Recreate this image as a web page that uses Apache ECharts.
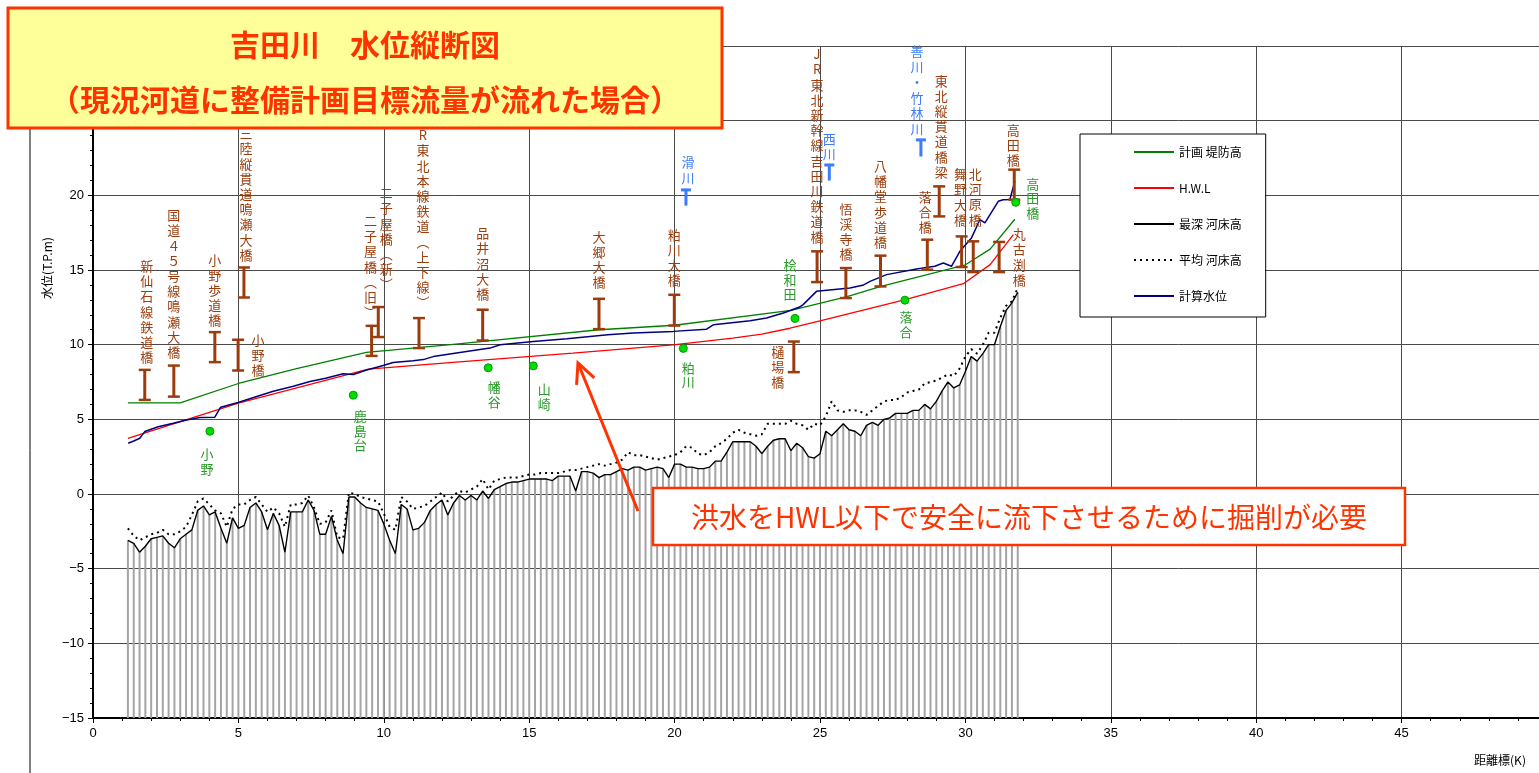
<!DOCTYPE html>
<html>
<head>
<meta charset="utf-8">
<script src="https://cdn.jsdelivr.net/npm/echarts@6/dist/echarts.min.js"></script>
<style>
  html, body { margin: 0; padding: 0; background: #fff; }
  #chart { width: 1539px; height: 773px; }
</style>
</head>
<body>
<div id="chart"></div>
<script>
// ---- cross-section stations (km) and river-bed heights (T.P.m) ----
const stationKm = [
  1.2,1.4,1.6,1.8,2.0,2.2,2.4,2.6,2.8,3.0,
  3.2,3.4,3.6,3.8,4.0,4.2,4.4,4.6,4.8,5.0,
  5.2,5.4,5.6,5.8,6.0,6.2,6.4,6.6,6.8,7.0,
  7.2,7.4,7.6,7.8,8.0,8.2,8.4,8.6,8.8,9.0,
  9.2,9.4,9.6,9.8,10.0,10.2,10.4,10.6,10.8,11.0,
  11.2,11.4,11.6,11.8,12.0,12.2,12.4,12.6,12.8,13.0,
  13.2,13.4,13.6,13.8,14.0,14.2,14.4,14.6,14.8,15.0,
  15.2,15.4,15.6,15.8,16.0,16.2,16.4,16.6,16.8,17.0,
  17.2,17.4,17.6,17.8,18.0,18.2,18.4,18.6,18.8,19.0,
  19.2,19.4,19.6,19.8,20.0,20.2,20.4,20.6,20.8,21.0,
  21.2,21.4,21.6,21.8,22.0,22.2,22.4,22.6,22.8,23.0,
  23.2,23.4,23.6,23.8,24.0,24.2,24.4,24.6,24.8,25.0,
  25.2,25.4,25.6,25.8,26.0,26.2,26.4,26.6,26.8,27.0,
  27.2,27.4,27.6,27.8,28.0,28.2,28.4,28.6,28.8,29.0,
  29.2,29.4,29.6,29.8,30.0,30.2,30.4,30.6,30.8,31.0,
  31.2,31.4,31.6,31.8
];

// 最深河床高
const bedDeepest = [
  -3.1,-3.3,-3.9,-3.5,-3.0,-2.9,-2.8,-3.3,-3.6,-3.0,
  -2.7,-2.4,-1.1,-0.8,-1.4,-1.2,-2.3,-3.3,-1.6,-2.3,
  -2.1,-0.9,-0.6,-1.2,-2.4,-1.3,-2.1,-3.9,-1.2,-1.2,
  -1.2,-0.4,-1.1,-2.7,-2.7,-1.5,-3.1,-4.0,-0.2,-0.2,
  -0.6,-0.9,-1.0,-1.1,-2.0,-3.1,-4.0,-0.7,-1.0,-2.4,
  -2.3,-1.9,-1.1,-0.7,-0.4,-1.4,-0.6,-0.1,-0.4,-0.1,
  -0.4,0.2,-0.3,0.3,0.5,0.7,0.8,0.8,0.9,1.0,
  1.0,1.0,1.0,0.9,1.2,1.2,1.2,0.2,1.5,1.5,
  1.4,1.1,1.3,1.3,1.5,1.7,1.6,1.8,1.8,1.6,
  1.7,1.8,1.7,1.1,2.0,2.0,1.8,1.8,1.7,1.7,
  1.8,2.2,2.2,2.8,3.5,3.5,3.5,3.5,3.2,2.7,
  3.2,3.6,3.7,3.7,2.9,3.4,3.1,2.5,2.4,2.7,
  4.2,3.9,4.3,4.7,4.3,4.2,3.9,4.6,4.8,4.6,
  5.0,5.1,5.4,5.4,5.4,5.6,5.6,6.0,5.7,6.2,
  6.9,7.5,7.1,7.3,8.2,9.2,8.9,9.4,10.0,10.0,
  11.2,12.3,12.8,13.5
];

// 平均河床高
const bedMean = [
  -2.3,-2.8,-3.1,-2.9,-2.7,-2.6,-2.4,-2.7,-2.7,-2.5,
  -2.2,-1.4,-0.5,-0.3,-0.7,-1.1,-1.3,-2.2,-1.0,-0.7,
  -0.7,-0.4,-0.2,-0.7,-1.2,-0.9,-1.3,-2.2,-0.7,-0.7,
  -0.6,-0.1,-0.9,-2.0,-1.9,-1.1,-2.9,-3.0,0.1,0.0,
  -0.2,-0.3,-0.4,-0.5,-1.3,-2.2,-2.4,-0.2,-0.5,-1.0,
  -0.9,-0.8,-0.5,-0.2,0.1,-0.5,-0.1,0.2,0.1,0.3,
  0.5,1.0,0.3,0.9,1.0,1.1,1.1,1.1,1.2,1.3,
  1.3,1.4,1.4,1.4,1.4,1.5,1.6,1.6,1.7,1.8,
  1.9,2.0,1.9,2.0,2.1,2.3,2.8,2.6,2.6,2.5,
  2.4,2.3,2.4,2.5,2.6,2.8,3.2,3.1,2.7,2.6,
  2.8,3.2,3.4,3.7,4.1,4.3,4.1,4.0,3.9,4.0,
  4.7,4.7,4.7,4.7,4.9,4.7,4.6,4.3,4.7,4.6,
  5.2,6.2,5.6,5.5,5.6,5.6,5.5,5.3,5.6,5.9,
  6.2,6.3,6.3,6.5,6.8,6.9,7.0,7.4,7.5,7.6,
  7.8,8.0,7.9,8.4,9.2,9.7,9.4,10.0,10.8,10.8,
  11.8,12.6,12.9,13.8
];

// 計画 堤防高
const bankKm    = [1.2, 3.0, 5.0, 7.0, 9.4, 12.3, 17.4, 20.0, 24.0, 25.9, 27.1, 30.0, 30.85, 31.7];
const bankLevel = [6.1, 6.1, 7.4, 8.4, 9.48, 10.0, 11.0, 11.3, 12.3, 13.2, 13.9, 15.35, 16.4, 18.4];

// H.W.L
const hwlKm    = [1.2, 5.0, 9.47, 12.27, 16.5, 19.95, 22.0, 23.0, 23.97, 25.0, 27.9, 29.93, 30.85, 31.65];
const hwlLevel = [3.73, 6.08, 8.36, 8.8, 9.43, 9.99, 10.44, 10.7, 11.1, 11.6, 13.0, 14.08, 15.36, 17.37];

// 計算水位
const calcKm = [
  1.21,1.4,1.61,1.78,2.24,2.76,3.22,3.68,4.19,4.39,4.99,5.63,6.2,6.89,7.46,8.0,8.6,8.95,9.41,9.98,
  10.32,11.01,11.36,11.7,12.27,13.65,14.0,15.14,16.3,17.7,18.58,19.95,21.1,21.33,22.6,23.16,23.74,24.3,
  24.42,24.88,26.03,26.5,26.72,27.29,28.32,28.95,29.24,29.52,29.81,30.21,30.5,30.67,31.13,31.3,31.53,31.7
];
const calcLevel = [
  3.4,3.55,3.73,4.18,4.5,4.74,4.96,5.12,5.14,5.81,6.13,6.53,6.88,7.21,7.53,7.75,8.05,8.0,8.3,8.6,
  8.8,8.93,9.0,9.2,9.37,9.77,9.99,10.21,10.4,10.67,10.78,10.89,11.04,11.33,11.6,11.78,12.12,12.52,
  12.68,13.57,13.8,14.0,14.24,14.69,15.07,15.25,15.47,15.25,16.25,17.15,18.38,18.16,19.6,19.7,19.72,20.95
];

// bridges: girder range (bottom / top, T.P.m)
const bridgeNames = [
  '新仙石線鉄道橋','国道４５号線鳴瀬大橋','小野歩道橋','小野橋','三陸縦貫道鳴瀬大橋',
  '二子屋橋（旧）','二子屋橋（新）','JR東北本線鉄道（上下線）','品井沼大橋','大郷大橋',
  '粕川大橋','樋場橋','JR東北新幹線吉田川鉄道橋','悟渓寺橋','八幡堂歩道橋',
  '落合橋','東北縦貫道橋梁','舞野大橋','北河原橋','丸古渕橋','高田橋'
];
const bridgeKm     = [1.78,2.78,4.19,4.99,5.19,9.58,9.81,11.21,13.4,17.4,19.99,24.1,24.9,25.89,27.08,28.69,29.1,29.87,30.27,31.16,31.68];
const bridgeBottom = [6.30,6.52,8.83,8.27,13.16,9.25,10.51,9.77,10.28,11.04,11.28,8.16,14.19,13.12,13.9,15.02,18.59,15.2,14.86,14.86,19.71];
const bridgeTop    = [8.31,8.6,10.84,10.33,15.17,11.26,12.52,11.78,12.34,13.07,13.34,10.21,16.25,15.13,15.96,17.03,20.6,17.25,16.92,16.88,21.72];

// water-level gauging stations
const gaugeNames = ['小野','鹿島台','幡谷','山崎','粕川','桧和田','落合','高田橋'];
const gaugeKm    = [4.02, 8.95, 13.59, 15.14, 20.3, 24.14, 27.92, 31.73];
const gaugeLevel = [4.2, 6.62, 8.45, 8.58, 9.75, 11.76, 12.98, 19.53];

// tributary confluences
const tribNames  = ['滑川','西川','善川・竹林川'];
const tribKm     = [20.39, 25.32, 28.47];
const tribBottom = [19.31, 20.99, 22.6];
const tribTop    = [20.43, 22.1, 23.78];

// ---- label placement (pixels relative to the marker) ----
const bridgeLabelPlace = [
  {side:'top', dx:2, gap:5}, {side:'top', dx:0, gap:6}, {side:'top', dx:0, gap:4},
  {side:'right', dx:20, dy:0}, {side:'top', dx:2, gap:5}, {side:'top', dx:-1, gap:6},
  {side:'top', dx:8, gap:15}, {side:'top', dx:4, gap:8}, {side:'top', dx:0, gap:8},
  {side:'top', dx:0, gap:9}, {side:'top', dx:0, gap:7}, {side:'left', dx:-16, dy:10},
  {side:'top', dx:0, gap:7}, {side:'top', dx:0, gap:6}, {side:'top', dx:0, gap:6},
  {side:'top', dx:-2, gap:5}, {side:'top', dx:2, gap:7}, {side:'top', dx:-1, gap:9},
  {side:'top', dx:2, gap:14}, {side:'right', dx:20, dy:0}, {side:'top', dx:-1, gap:2}
];
const gaugeLabelPlace = [
  {side:'below', dx:-3, gap:16}, {side:'below', dx:7, gap:14}, {side:'below', dx:6, gap:12},
  {side:'below', dx:11, gap:16}, {side:'below', dx:5, gap:12}, {side:'above', dx:-5, gap:17},
  {side:'below', dx:1, gap:10}, {side:'right', dx:17, dy:-4}
];
const tribLabelPlace = [{dx:2, gap:3}, {dx:0, gap:2}, {dx:-4, gap:2}];

const JP  = '"Noto Sans CJK JP", "Noto Sans", sans-serif';
const NUM = '"Liberation Sans Narrow", "Liberation Sans", Arial, sans-serif';
const BROWN = '#9c3c0c';
const GREEN_TXT = '#2a9a2a';
const TRIB_BLUE = '#3d7cff';
const ORANGE = '#ff3300';

// stack characters top-to-bottom, using vertical forms for brackets
const vertical = s => Array.from(s).map(c => c === '（' ? '︵' : c === '）' ? '︶' : c).join('\n');
const zip = (a, b) => a.map((v, i) => [v, b[i]]);
const tickText = v => (v < 0 ? '\u2212' + Math.abs(v) : String(v));

const chart = echarts.init(document.getElementById('chart'));

const bedBars = {
  type: 'custom', silent: true, z: 1,
  data: zip(stationKm, bedDeepest),
  renderItem: (params, api) => {
    const top = api.coord([api.value(0), api.value(1)]);
    const bot = api.coord([api.value(0), -15]);
    return { type: 'line', shape: { x1: top[0], y1: top[1], x2: bot[0], y2: bot[1] },
             style: { stroke: '#a4a4a4', lineWidth: 2 } };
  }
};

const bridges = {
  type: 'custom', silent: true, z: 5,
  data: bridgeKm.map((k, i) => [k, bridgeBottom[i], bridgeTop[i]]),
  renderItem: (params, api) => {
    const i = params.dataIndex;
    const t = api.coord([api.value(0), api.value(2)]);
    const b = api.coord([api.value(0), api.value(1)]);
    const place = bridgeLabelPlace[i];
    const txt = vertical(bridgeNames[i]);
    let tx, ty, va;
    if (place.side === 'top') { tx = t[0] + place.dx; ty = t[1] - place.gap; va = 'bottom'; }
    else { tx = t[0] + place.dx; ty = (t[1] + b[1]) / 2 + place.dy; va = 'middle'; }
    return { type: 'group', children: [
      { type: 'line', shape: { x1: t[0], y1: t[1], x2: b[0], y2: b[1] }, style: { stroke: BROWN, lineWidth: 3 } },
      { type: 'line', shape: { x1: t[0] - 6, y1: t[1], x2: t[0] + 6, y2: t[1] }, style: { stroke: BROWN, lineWidth: 2.5 } },
      { type: 'line', shape: { x1: b[0] - 6, y1: b[1], x2: b[0] + 6, y2: b[1] }, style: { stroke: BROWN, lineWidth: 2.5 } },
      { type: 'text', x: tx, y: ty, style: { text: txt, fill: BROWN, fontSize: 13, fontFamily: JP,
        lineHeight: 15.2, align: 'center', verticalAlign: va } }
    ]};
  }
};

const gauges = {
  type: 'custom', silent: true, z: 6,
  data: zip(gaugeKm, gaugeLevel),
  renderItem: (params, api) => {
    const i = params.dataIndex;
    const p = api.coord([api.value(0), api.value(1)]);
    const place = gaugeLabelPlace[i];
    let tx = p[0] + place.dx, ty, va;
    if (place.side === 'below') { ty = p[1] + place.gap; va = 'top'; }
    else if (place.side === 'above') { ty = p[1] - place.gap; va = 'bottom'; }
    else { ty = p[1] + place.dy; va = 'middle'; }
    return { type: 'group', children: [
      { type: 'circle', shape: { cx: p[0], cy: p[1], r: 4 }, style: { fill: '#00dd00', stroke: '#009900', lineWidth: 1 } },
      { type: 'text', x: tx, y: ty, style: { text: vertical(gaugeNames[i]), fill: GREEN_TXT, fontSize: 13,
        fontFamily: JP, lineHeight: 14.5, align: 'center', verticalAlign: va } }
    ]};
  }
};

const tributaries = {
  type: 'custom', silent: true, z: 6,
  data: tribKm.map((k, i) => [k, tribBottom[i], tribTop[i]]),
  renderItem: (params, api) => {
    const i = params.dataIndex;
    const t = api.coord([api.value(0), api.value(2)]);
    const b = api.coord([api.value(0), api.value(1)]);
    const place = tribLabelPlace[i];
    return { type: 'group', children: [
      { type: 'line', shape: { x1: t[0], y1: t[1], x2: b[0], y2: b[1] }, style: { stroke: TRIB_BLUE, lineWidth: 3 } },
      { type: 'line', shape: { x1: t[0] - 5, y1: t[1] + 1, x2: t[0] + 5, y2: t[1] + 1 }, style: { stroke: TRIB_BLUE, lineWidth: 3 } },
      { type: 'text', x: t[0] + place.dx, y: t[1] - place.gap, style: { text: vertical(tribNames[i]), fill: TRIB_BLUE,
        fontSize: 13, fontFamily: JP, lineHeight: 15.6, align: 'center', verticalAlign: 'bottom' } }
    ]};
  }
};

const lineSeries = (name, data, color, width, type, z) => ({
  name, type: 'line', data, symbol: 'none', showSymbol: false, silent: true, z,
  lineStyle: { color, width, type }, itemStyle: { color }
});

// annotation arrow geometry
const arrowTip = [578, 363], arrowTail = [638, 511];
const dirLen = Math.hypot(arrowTail[0] - arrowTip[0], arrowTail[1] - arrowTip[1]);
const ux = (arrowTail[0] - arrowTip[0]) / dirLen, uy = (arrowTail[1] - arrowTip[1]) / dirLen;
const barb = (ang, len) => {
  const c = Math.cos(ang), s = Math.sin(ang);
  return [arrowTip[0] + (ux * c - uy * s) * len, arrowTip[1] + (ux * s + uy * c) * len];
};
const b1 = barb(0.45, 22), b2 = barb(-0.45, 22);

const option = {
  animation: false,
  backgroundColor: '#fff',
  grid: { left: 93, top: 46, right: -8, bottom: 55, containLabel: false, outerBoundsMode: 'none' },
  xAxis: {
    type: 'value', min: 0, max: 50, interval: 5,
    axisLine: { onZero: false, lineStyle: { color: '#000', width: 2 } },
    axisTick: { length: 5, lineStyle: { color: '#000', width: 1 } },
    minorTick: { show: true, splitNumber: 5, length: 3, lineStyle: { color: '#000' } },
    axisLabel: { margin: 9, fontSize: 13, color: '#000', fontFamily: NUM, formatter: tickText },
    splitLine: { show: true, lineStyle: { color: '#4a4a4a', width: 1 } }
  },
  yAxis: {
    type: 'value', min: -15, max: 30, interval: 5,
    axisLine: { onZero: false, lineStyle: { color: '#000', width: 2 } },
    axisTick: { length: 5, lineStyle: { color: '#000', width: 1 } },
    minorTick: { show: true, splitNumber: 5, length: 3, lineStyle: { color: '#000' } },
    axisLabel: { margin: 9, fontSize: 13, color: '#000', fontFamily: NUM, formatter: tickText },
    splitLine: { show: true, lineStyle: { color: '#4a4a4a', width: 1 } }
  },
  legend: {
    orient: 'vertical', left: 1080, top: 134, selectedMode: false,
    itemWidth: 40, itemHeight: 14, itemGap: 24,
    padding: [12, 24, 15, 53],
    backgroundColor: '#fff', borderColor: '#000', borderWidth: 1,
    itemStyle: { opacity: 0 },
    textStyle: { fontSize: 12, color: '#000', fontFamily: JP },
    data: ['計画 堤防高', 'H.W.L', '最深 河床高', '平均 河床高', '計算水位']
  },
  series: [
    bedBars,
    lineSeries('最深 河床高', zip(stationKm, bedDeepest), '#000', 1.4, 'solid', 2),
    lineSeries('平均 河床高', zip(stationKm, bedMean), '#000', 2, [2, 4], 2),
    lineSeries('計画 堤防高', zip(bankKm, bankLevel), '#008000', 1.3, 'solid', 3),
    lineSeries('H.W.L', zip(hwlKm, hwlLevel), '#ff0000', 1.3, 'solid', 3),
    lineSeries('計算水位', zip(calcKm, calcLevel), '#000080', 1.5, 'solid', 4),
    bridges, gauges, tributaries
  ],
  graphic: [
    { type: 'line', z: 50, shape: { x1: 30, y1: 128, x2: 30, y2: 773 }, style: { stroke: '#000', lineWidth: 1 } },
    { type: 'text', z: 50, x: 47, y: 268, rotation: Math.PI / 2,
      style: { text: '水位(T.P.m)', fontSize: 12, fontFamily: JP, fill: '#000', align: 'center', verticalAlign: 'middle' } },
    { type: 'text', z: 50, x: 1500, y: 760,
      style: { text: '距離標(K)', fontSize: 12, fontFamily: JP, fill: '#000', align: 'center', verticalAlign: 'middle' } },
    // title box
    { type: 'rect', z: 100, shape: { x: 8, y: 8, width: 714, height: 120 },
      style: { fill: '#ffff99', stroke: ORANGE, lineWidth: 3 } },
    { type: 'text', z: 101, x: 365, y: 45,
      style: { text: '吉田川　水位縦断図', fontSize: 30, fontWeight: 'bold', fontFamily: JP, fill: ORANGE, align: 'center', verticalAlign: 'middle' } },
    { type: 'text', z: 101, x: 365, y: 100,
      style: { text: '（現況河道に整備計画目標流量が流れた場合）', fontSize: 30, fontWeight: 'bold', fontFamily: JP, fill: ORANGE, align: 'center', verticalAlign: 'middle' } },
    // excavation note with arrow
    { type: 'line', z: 90, shape: { x1: arrowTail[0], y1: arrowTail[1], x2: arrowTip[0], y2: arrowTip[1] },
      style: { stroke: ORANGE, lineWidth: 3 } },
    { type: 'polyline', z: 90, shape: { points: [b1, arrowTip, b2] },
      style: { stroke: ORANGE, lineWidth: 3, fill: null } },
    { type: 'rect', z: 90, shape: { x: 653, y: 488, width: 752, height: 57 },
      style: { fill: '#fff', stroke: ORANGE, lineWidth: 2.5 } },
    { type: 'text', z: 91, x: 1029, y: 517,
      style: { text: '洪水をHWL以下で安全に流下させるために掘削が必要', fontSize: 28, fontFamily: JP, fill: ORANGE, align: 'center', verticalAlign: 'middle' } }
  ]
};

chart.setOption(option);
</script>
</body>
</html>
